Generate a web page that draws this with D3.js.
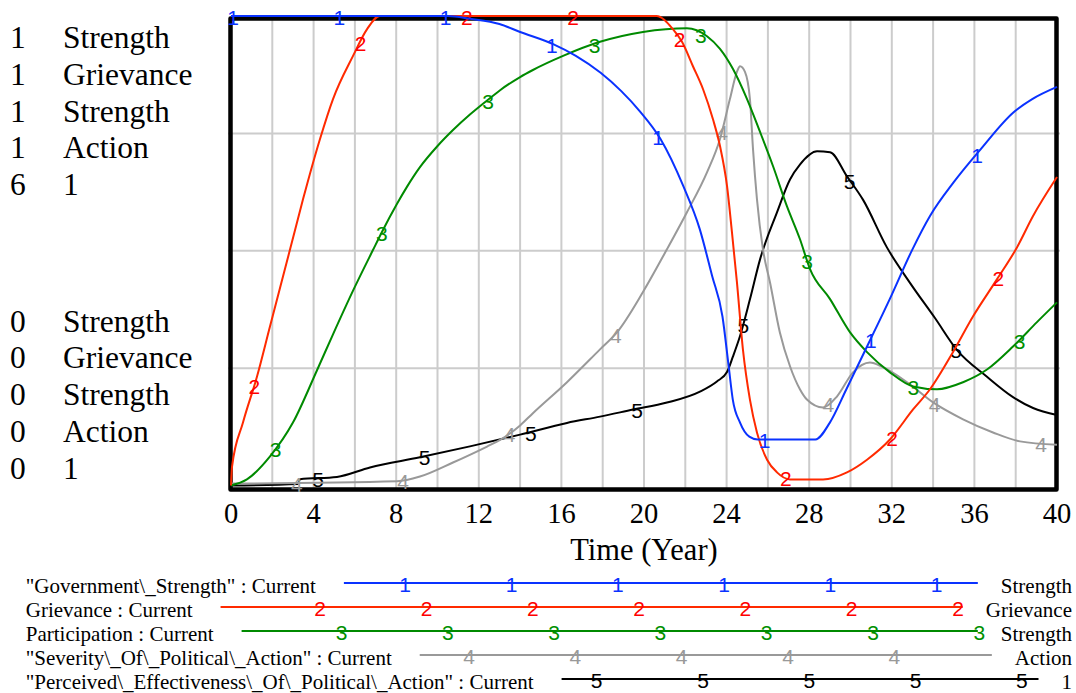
<!DOCTYPE html>
<html>
<head>
<meta charset="utf-8">
<script src="https://cdn.jsdelivr.net/npm/d3@7"></script>
<style>
  body { margin: 0; background: #fff; }
  svg { display: block; font-family: "Liberation Serif", "Times New Roman", serif; }
</style>
</head>
<body>
<div id="main"></div>
<script>
// series labels as shown in the legend and side scales
const seriesNames = ['"Government\\_Strength"', 'Grievance', 'Participation',
  '"Severity\\_Of\\_Political\\_Action"', '"Perceived\\_Effectiveness\\_Of\\_Political\\_Action"'];
const unitLabels = ['Strength', 'Grievance', 'Strength', 'Action', '1'];
const scaleMax = [1, 1, 1, 1, 6];
const xTicks = [0, 4, 8, 12, 16, 20, 24, 28, 32, 36, 40];

// [time (year), value]
const govStrength = [[0, 1], [10.5, 1], [11.6, 0.994], [13.0, 0.983], [14.0, 0.966], [15.6, 0.94],
  [16.7, 0.915], [17.9, 0.879], [18.9, 0.84], [19.8, 0.797], [20.8, 0.738], [21.9, 0.638],
  [22.7, 0.546], [23.3, 0.446], [23.8, 0.36], [24.1, 0.254], [24.3, 0.183], [24.65, 0.134],
  [25.1, 0.104], [25.5, 0.098], [28.3, 0.098], [29.0, 0.134], [29.8, 0.205], [30.9, 0.305],
  [31.9, 0.397], [33.0, 0.503], [33.85, 0.574], [35.0, 0.646], [36.3, 0.716], [37.9, 0.795],
  [38.8, 0.823], [40, 0.849]];
const grievance = [[0, 0], [0.05, 0.04], [0.58, 0.134], [1.26, 0.232], [1.89, 0.339], [2.86, 0.503],
  [3.49, 0.61], [4.31, 0.738], [4.94, 0.823], [5.91, 0.915], [6.59, 0.972], [7.2, 1], [20.6, 1],
  [21.4, 0.972], [21.84, 0.945], [22.37, 0.893], [22.86, 0.844], [23.34, 0.78], [23.68, 0.723],
  [24.02, 0.638], [24.26, 0.539], [24.5, 0.433], [24.79, 0.29], [25.13, 0.183], [25.47, 0.113],
  [25.96, 0.055], [26.44, 0.028], [27.07, 0.013], [28.67, 0.013], [29.83, 0.028], [30.8, 0.055],
  [31.91, 0.098], [33.03, 0.162], [33.85, 0.205], [34.96, 0.284], [35.93, 0.36], [37.09, 0.439],
  [38.06, 0.507], [38.84, 0.574], [40, 0.657]];
const participation = [[0, 0], [0.77, 0.013], [1.89, 0.062], [3.0, 0.134], [4.16, 0.245], [4.94, 0.322],
  [5.91, 0.415], [6.88, 0.502], [7.31, 0.54], [8.04, 0.6], [8.52, 0.636], [9.15, 0.678],
  [9.98, 0.722], [10.75, 0.757], [11.57, 0.79], [12.4, 0.82], [13.03, 0.842], [14.0, 0.87],
  [14.62, 0.885], [16.08, 0.915], [17.87, 0.945], [19.95, 0.966], [22.08, 0.974], [23.05, 0.957],
  [23.68, 0.93], [24.31, 0.887], [24.99, 0.823], [25.62, 0.753], [26.25, 0.68], [26.92, 0.595],
  [27.55, 0.525], [28.04, 0.461], [29.01, 0.397], [29.98, 0.326], [30.8, 0.284], [31.91, 0.241],
  [33.03, 0.211], [34.19, 0.205], [35.45, 0.22], [36.61, 0.247], [37.87, 0.296], [39.03, 0.348],
  [40, 0.39]];
const severity = [[0, 0.004], [8.04, 0.009], [9.15, 0.019], [10.75, 0.049], [12.4, 0.083], [13.03, 0.097],
  [14.0, 0.128], [14.62, 0.154], [16.27, 0.22], [17.87, 0.29], [18.69, 0.326], [19.95, 0.412],
  [21.11, 0.503], [22.08, 0.582], [23.05, 0.667], [23.68, 0.738], [24.16, 0.823], [24.5, 0.881],
  [24.65, 0.893], [24.89, 0.881], [25.13, 0.823], [25.28, 0.716], [25.47, 0.61], [25.76, 0.503],
  [26.1, 0.433], [26.58, 0.326], [27.07, 0.254], [27.55, 0.205], [27.89, 0.183], [28.67, 0.166],
  [29.35, 0.19], [30.12, 0.241], [30.94, 0.262], [31.57, 0.252], [32.74, 0.22], [34.0, 0.177],
  [35.45, 0.141], [36.9, 0.113], [38.21, 0.094], [40, 0.087]];
const effectiveness = [[0, 0], [3.24, 0.02], [3.34, 0.08], [5.13, 0.11], [6.73, 0.23], [9.15, 0.36],
  [11.57, 0.5], [14.0, 0.65], [16.27, 0.8], [17.87, 0.88], [19.47, 0.97], [21.11, 1.06], [22.71, 1.2],
  [23.53, 1.33], [24.02, 1.45], [24.31, 1.65], [24.65, 1.91], [25.13, 2.38], [25.62, 2.89],
  [26.44, 3.49], [27.07, 3.91], [27.55, 4.1], [28.38, 4.27], [29.01, 4.26], [29.83, 3.95],
  [30.61, 3.65], [31.77, 3.04], [32.88, 2.59], [34.09, 2.14], [35.16, 1.73], [36.61, 1.39],
  [37.87, 1.13], [38.84, 0.99], [40, 0.9]];

const seriesData = [govStrength, grievance, participation, severity, effectiveness];
const lineColors = ['#0a32ff', '#ff2a00', '#008a00', '#999999', '#000000'];
const digitColors = ['#0a32ff', '#ff0000', '#009000', '#999999', '#000000'];

function main() {
  const svg = d3.select('#main').append('svg')
    .attr('width', 1076)
    .attr('height', 693);

  const x = d3.scaleLinear().domain([0, 40]).range([231, 1057]);
  // one y scale per series, all sharing the same pixel range
  const yScales = scaleMax.map(m => d3.scaleLinear().domain([0, m]).range([485.5, 16]));
  const yBase = yScales[0];

  // grid
  const grid = svg.append('g');
  grid.selectAll('line.v')
    .data(d3.range(2, 40, 2))
    .enter().append('line')
    .attr('x1', d => x(d)).attr('x2', d => x(d))
    .attr('y1', 18.5).attr('y2', 489.5)
    .attr('stroke', '#cccccc').attr('stroke-width', 2);
  grid.selectAll('line.h')
    .data([0.25, 0.5, 0.75])
    .enter().append('line')
    .attr('x1', x(0) - 3).attr('x2', x(40) + 3)
    .attr('y1', d => yBase(d)).attr('y2', d => yBase(d))
    .attr('stroke', '#cccccc').attr('stroke-width', 2);

  // frame
  svg.append('rect')
    .attr('x', x(0) - 0.5).attr('y', 18.5)
    .attr('width', x(40) - x(0)).attr('height', 471)
    .attr('fill', 'none').attr('stroke', '#000').attr('stroke-width', 4.5)
    .attr('stroke-linejoin', 'round');

  // x axis tick labels
  svg.append('g').selectAll('text')
    .data(xTicks)
    .enter().append('text')
    .attr('x', d => x(d)).attr('y', 523)
    .attr('text-anchor', 'middle')
    .style('font-size', '28.5px')
    .text(d => d);
  svg.append('text')
    .attr('x', (x(0) + x(40)) / 2).attr('y', 560)
    .attr('text-anchor', 'middle')
    .style('font-size', '30.5px')
    .text('Time (Year)');

  // side scale labels
  const side = svg.append('g').style('font-size', '31.5px');
  seriesNames.forEach((n, i) => {
    side.append('text').attr('x', 10).attr('y', 48.3 + i * 36.7).text(scaleMax[i]);
    side.append('text').attr('x', 63).attr('y', 48.3 + i * 36.7).text(unitLabels[i]);
    side.append('text').attr('x', 10).attr('y', 331.7 + i * 36.7).text(0);
    side.append('text').attr('x', 63).attr('y', 331.7 + i * 36.7).text(unitLabels[i]);
  });

  // linear lookup of a series value at time t
  const bis = d3.bisector(d => d[0]).left;
  function valueAt(data, t) {
    const j = bis(data, t);
    if (j <= 0) return data[0][1];
    if (j >= data.length) return data[data.length - 1][1];
    const a = data[j - 1], b = data[j];
    return a[1] + (b[1] - a[1]) * (t - a[0]) / (b[0] - a[0]);
  }

  const markerStep = 106.3; // px between number markers
  const markerShift = 21.3; // px offset between series

  // curves, last series first so series 1 sits on top
  const curves = svg.append('g');
  d3.range(seriesData.length - 1, -1, -1).forEach(i => {
    const data = seriesData[i];
    const y = yScales[i];
    const line = d3.line().x(d => x(d[0])).y(d => y(d[1])).curve(d3.curveMonotoneX);
    const g = curves.append('g');
    g.append('path')
      .attr('d', line(data))
      .attr('fill', 'none')
      .attr('stroke', lineColors[i])
      .attr('stroke-width', 2)
      .attr('stroke-linejoin', 'round');
    const marks = d3.range(0, 9)
      .map(k => x(0) + 2 + i * markerShift + k * markerStep)
      .filter(px => px <= x(40))
      .map(px => x.invert(px));
    g.selectAll('text')
      .data(marks)
      .enter().append('text')
      .attr('x', t => x(t))
      .attr('y', t => y(valueAt(data, t)) + 1.5)
      .attr('text-anchor', 'middle')
      .attr('dominant-baseline', 'central')
      .style('font-family', '"Liberation Sans", Arial, sans-serif')
      .style('font-size', '21px')
      .attr('fill', digitColors[i])
      .text(i + 1);
  });

  // legend
  const legend = svg.append('g').style('font-size', '21px');
  seriesNames.forEach((n, i) => {
    const base = 592.5 + i * 24;
    const label = legend.append('text')
      .attr('x', 25.8).attr('y', base)
      .text(`${n} : Current`);
    const unit = legend.append('text')
      .attr('x', 1072).attr('y', base)
      .attr('text-anchor', 'end')
      .text(unitLabels[i]);
    const x1 = 25.8 + label.node().getComputedTextLength() + 28;
    const x2 = 1072 - unit.node().getComputedTextLength() - 23;
    const ly = base - 9.5;
    legend.append('line')
      .attr('x1', x1).attr('x2', x2)
      .attr('y1', ly).attr('y2', ly)
      .attr('stroke', lineColors[i]).attr('stroke-width', 2);
    const marks = d3.range(0, 12)
      .map(k => -20 + i * markerShift + k * markerStep)
      .filter(px => px >= x1 && px <= x2 + 3);
    legend.selectAll(null)
      .data(marks)
      .enter().append('text')
      .attr('x', d => d).attr('y', ly + 1.5)
      .attr('text-anchor', 'middle')
      .attr('dominant-baseline', 'central')
      .style('font-family', '"Liberation Sans", Arial, sans-serif')
      .attr('fill', digitColors[i])
      .text(i + 1);
  });
}
document.addEventListener('DOMContentLoaded', main);
</script>
</body>
</html>
